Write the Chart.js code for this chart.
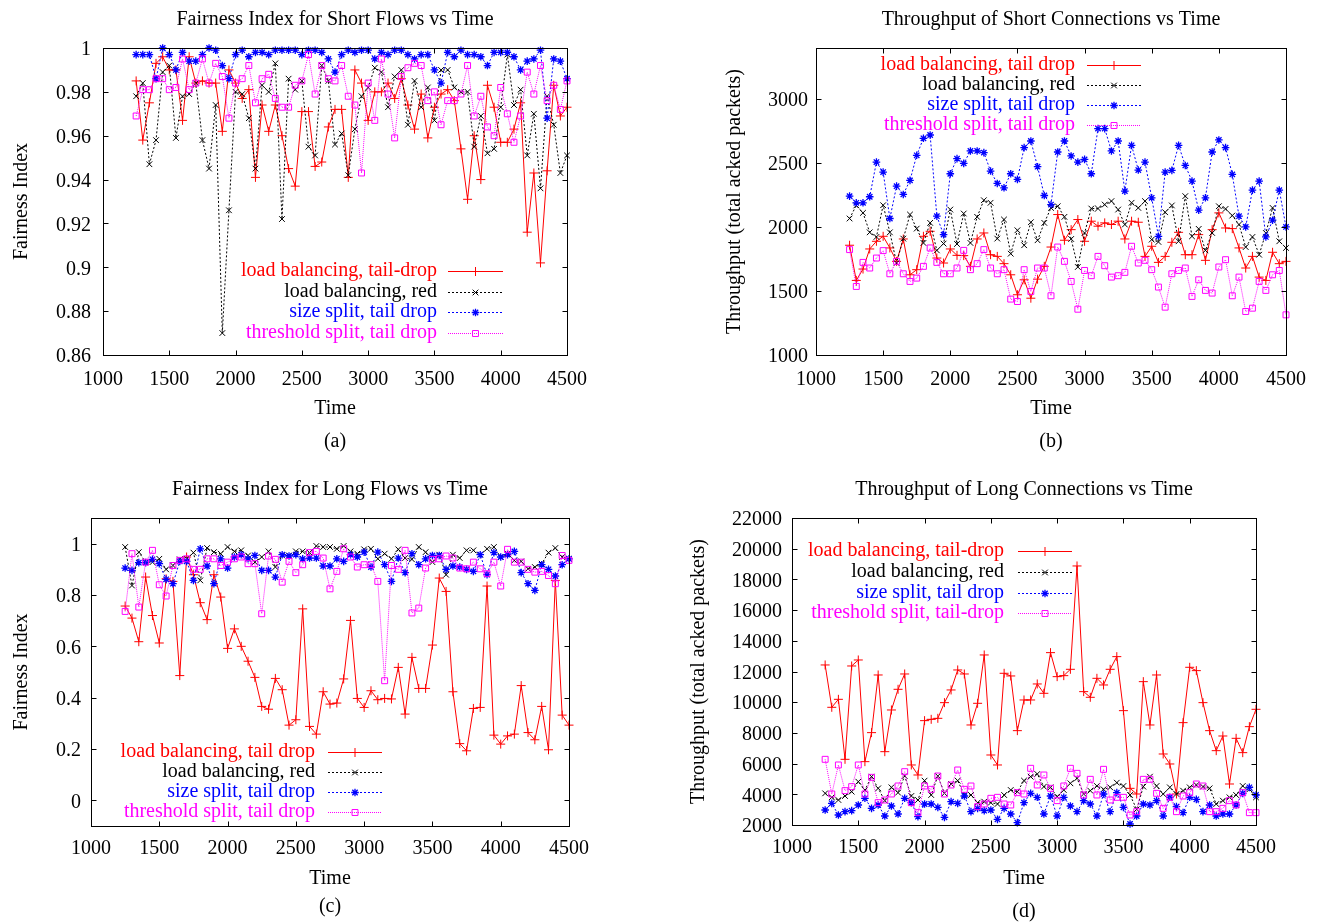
<!DOCTYPE html>
<html>
<head>
<meta charset="utf-8">
<script src="https://cdn.jsdelivr.net/npm/chart.js@4.4.1/dist/chart.umd.min.js"></script>
<style>
  body { margin: 0; background: #fff; width: 1319px; height: 923px; overflow: hidden; position: relative; }
  canvas { position: absolute; }
</style>
</head>
<body>
<canvas id="chartA" width="600" height="460" style="left:0px;top:0px"></canvas>
<canvas id="chartB" width="619" height="460" style="left:700px;top:0px"></canvas>
<canvas id="chartC" width="600" height="463" style="left:0px;top:460px"></canvas>
<canvas id="chartD" width="659" height="465" style="left:660px;top:460px"></canvas>
<script>
// time axis (same samples for every panel)
const times = [1250,1300,1350,1400,1450,1500,1550,1600,1650,1700,1750,1800,1850,1900,1950,2000,2050,2100,2150,2200,
  2250,2300,2350,2400,2450,2500,2550,2600,2650,2700,2750,2800,2850,2900,2950,3000,3050,3100,3150,3200,
  3250,3300,3350,3400,3450,3500,3550,3600,3650,3700,3750,3800,3850,3900,3950,4000,4050,4100,4150,4200,
  4250,4300,4350,4400,4450,4500];
const timeTicks = [1000,1500,2000,2500,3000,3500,4000,4500];

// (a) fairness index, short flows
const shortFairLbTail = [0.985,0.958,0.975,0.993,0.996,0.990,0.990,0.967,0.996,0.984,0.985,0.984,0.984,0.962,0.990,0.984,0.977,0.981,0.941,0.974,
  0.962,0.974,0.960,0.945,0.937,0.971,0.971,0.946,0.948,0.964,0.972,0.972,0.941,0.990,0.984,0.967,0.980,0.980,0.984,0.977,
  0.986,0.974,0.963,0.979,0.959,0.973,0.979,0.981,0.976,0.954,0.931,0.960,0.940,0.983,0.973,0.957,0.957,0.963,0.975,0.916,
  0.943,0.902,0.944,0.983,0.969,0.973];
const shortFairLbRed = [0.978,0.984,0.947,0.958,0.989,0.992,0.959,0.978,0.979,0.984,0.958,0.945,0.974,0.870,0.926,0.980,0.979,0.968,0.945,0.983,
  0.980,0.993,0.922,0.986,0.981,0.985,0.955,0.951,0.992,0.985,0.956,0.961,0.942,0.963,0.978,0.982,0.991,0.989,0.973,0.987,
  0.990,0.965,0.985,0.973,0.982,0.967,0.990,0.990,0.982,0.980,0.980,0.955,0.969,0.952,0.954,0.973,0.997,0.974,0.981,0.951,
  0.970,0.936,0.978,0.965,0.943,0.951];
const shortFairSize = [0.997,0.997,0.997,0.986,1.000,0.997,0.990,0.998,0.994,0.994,0.997,1.000,0.999,0.992,0.986,0.997,0.999,0.996,0.998,0.998,
  0.997,0.999,0.999,0.999,0.999,0.997,0.999,0.999,0.998,0.995,0.989,0.997,0.999,0.998,0.999,0.999,0.995,0.998,0.997,0.999,
  0.999,0.997,0.995,0.997,0.997,0.990,0.984,0.998,0.996,0.999,0.997,0.997,0.996,0.992,0.998,0.998,0.998,0.996,0.990,0.994,
  0.995,0.999,0.968,0.995,0.994,0.986];
const shortFairThresh = [0.969,0.981,0.981,0.986,0.986,0.981,0.982,0.995,0.981,0.984,0.995,0.984,0.993,0.987,0.968,0.984,0.986,0.992,0.975,0.986,
  0.988,0.977,0.973,0.973,0.983,0.985,0.997,0.979,0.992,0.986,0.985,0.992,0.978,0.974,0.943,0.984,0.967,0.995,0.979,0.959,
  0.987,0.991,0.993,0.992,0.976,0.980,0.965,0.976,0.976,0.979,0.992,0.969,0.978,0.964,0.960,0.982,0.970,0.957,0.969,0.989,
  0.979,0.992,0.976,0.983,0.972,0.985];
const fairShortTicks = [0.86,0.88,0.9,0.92,0.94,0.96,0.98,1];

// (b) throughput, short connections
const shortTputLbTail = [1858,1583,1672,1829,1889,1928,1837,1732,1907,1627,1667,1928,1967,1758,1719,1829,1779,1777,1693,1907,
  1954,1784,1771,1714,1627,1471,1588,1444,1593,1693,1844,2098,1897,1980,2059,1889,2046,2007,2033,2020,
  2046,1907,2046,2038,1771,1850,1724,1771,1881,1959,1784,1784,1941,1740,1980,2111,1993,1988,1837,1680,
  1771,1609,1583,1803,1714,1732];
const shortTputLbRed = [2067,2169,2111,1959,1923,2171,1959,1719,1910,2098,1988,1876,2033,1818,1871,2137,1868,2106,1876,2080,
  2210,2190,1910,2059,1792,1975,1858,2038,1897,2033,2150,2163,2080,1907,1688,1954,2145,2145,2176,2203,
  2137,2020,2190,2150,2203,1902,1884,2116,2169,1889,2242,1928,1986,1818,1954,2163,2142,2090,2020,1844,
  1923,1784,1954,2150,1889,1837];
const shortTputSize = [2242,2190,2190,2237,2508,2430,2067,2320,2255,2365,2561,2694,2720,2085,1941,2417,2535,2498,2595,2595,
  2582,2438,2341,2307,2417,2373,2621,2673,2472,2247,2176,2587,2673,2556,2508,2529,2417,2770,2770,2595,
  2673,2281,2639,2446,2508,2229,1928,2430,2443,2639,2482,2359,2132,2229,2587,2681,2621,2412,2085,2001,
  2289,2359,1923,2054,2289,2001];
const shortTputThresh = [1824,1536,1724,1680,1758,1816,1635,1732,1635,1575,1601,1693,1837,1724,1635,1635,1680,1818,1667,1714,
  1824,1680,1635,1667,1437,1418,1667,1497,1680,1680,1463,1844,1732,1575,1358,1661,1620,1771,1698,1609,
  1620,1646,1850,1719,1740,1667,1531,1374,1635,1661,1680,1458,1588,1505,1484,1688,1745,1463,1609,1340,
  1366,1575,1505,1627,1661,1314];
const tputShortTicks = [1000,1500,2000,2500,3000];

// (c) fairness index, long flows
const longFairLbTail = [0.757,0.710,0.618,0.870,0.720,0.613,0.863,0.853,0.486,0.948,0.879,0.770,0.704,0.879,0.792,0.592,0.668,0.600,0.542,0.479,
  0.366,0.355,0.475,0.431,0.293,0.314,0.746,0.288,0.258,0.423,0.375,0.379,0.473,0.701,0.397,0.362,0.427,0.392,0.397,0.395,
  0.518,0.336,0.557,0.436,0.436,0.605,0.866,0.814,0.423,0.221,0.193,0.358,0.362,0.835,0.254,0.219,0.251,0.258,0.447,0.264,
  0.236,0.366,0.197,0.857,0.332,0.293];
const longFairLbRed = [0.987,0.837,0.967,0.928,0.928,0.941,0.900,0.915,0.939,0.941,0.965,0.857,0.983,0.967,0.961,0.987,0.970,0.974,0.954,0.928,
  0.948,0.970,0.909,0.954,0.954,0.970,0.970,0.965,0.991,0.987,0.987,0.980,0.991,0.970,0.961,0.978,0.980,0.941,0.961,0.941,
  0.978,0.944,0.939,0.987,0.967,0.928,0.957,0.879,0.957,0.944,0.974,0.974,0.957,0.980,0.987,0.948,0.961,0.935,0.931,0.902,
  0.909,0.922,0.965,0.983,0.948,0.941];
const longFairSize = [0.905,0.896,0.926,0.926,0.939,0.922,0.861,0.844,0.931,0.931,0.857,0.980,0.913,0.844,0.941,0.905,0.948,0.957,0.941,0.954,
  0.896,0.896,0.870,0.957,0.952,0.957,0.941,0.944,0.944,0.913,0.913,0.941,0.931,0.957,0.948,0.967,0.909,0.967,0.918,0.853,
  0.944,0.887,0.961,0.918,0.941,0.954,0.954,0.900,0.913,0.909,0.900,0.892,0.957,0.879,0.965,0.948,0.957,0.970,0.887,0.844,
  0.818,0.918,0.900,0.874,0.918,0.941];
const longFairThresh = [0.736,0.961,0.753,0.928,0.974,0.840,0.796,0.915,0.935,0.941,0.900,0.900,0.941,0.941,0.915,0.928,0.941,0.948,0.922,0.922,
  0.727,0.952,0.939,0.850,0.931,0.887,0.918,0.965,0.970,0.944,0.824,0.892,0.980,0.948,0.909,0.918,0.918,0.853,0.466,0.915,
  0.900,0.974,0.730,0.749,0.905,0.939,0.941,0.952,0.944,0.905,0.902,0.928,0.902,0.883,0.928,0.835,0.978,0.928,0.928,0.900,
  0.889,0.892,0.876,0.844,0.954,0.935];
const fairLongTicks = [0,0.2,0.4,0.6,0.8,1];

// (d) throughput, long connections
const longTputLbTail = [12426,9667,10188,6279,12360,12751,6127,8017,11774,6778,9493,10840,11839,5910,5258,8798,8885,8950,9971,10797,
  12100,11839,8516,9928,13077,6561,5910,11883,11709,8147,10145,10145,11188,10579,13229,11665,11730,12143,18876,10688,
  10319,11556,11122,12143,12969,9450,4389,4020,11339,8516,11774,6626,5975,4020,8668,12274,12057,9971,8147,6843,
  7799,4672,7647,6713,8407,9537];
const longTputLbRed = [4063,3803,3629,3890,4172,4824,4281,5149,4389,3586,4454,4107,5193,3890,3629,4889,3955,5193,4063,4672,
  4889,3955,3955,3455,3520,3455,3368,3955,4281,4172,4889,5149,5323,4498,4454,3846,4281,4715,5041,4020,
  4237,4541,4324,4454,4758,4541,3955,3021,4498,5149,4541,4020,4454,4020,4237,4454,4606,4498,4389,3368,
  3586,3803,3955,4541,4324,3803];
const longTputSize = [2977,3412,2652,2869,2934,3303,3738,3086,3303,2586,3238,2717,3738,3455,2543,3368,3368,3151,2500,3520,
  3412,3890,2869,3086,2934,2977,2369,3086,2717,2152,3455,4063,3803,2717,3890,2586,3803,3238,2869,3586,
  3368,2586,4020,2869,4107,3151,2065,2586,3368,3303,3586,2586,3803,3195,2804,3803,3672,2869,3303,2586,
  2717,2717,3303,4063,4454,3955];
const longTputThresh = [6279,4020,5910,4237,4498,5910,4020,5106,3455,3629,4020,4541,5475,3455,2804,4541,4324,5193,4020,4606,
  5584,4324,4541,3195,3368,3738,3803,3368,3303,4107,4020,5693,4606,5258,4389,3586,4541,5693,5366,3955,
  4976,3955,5627,3629,3803,3803,2652,2869,4976,4976,4063,3086,3803,2869,3890,4107,4672,4541,2869,2869,
  3086,3586,3303,4107,2804,2804];
const tputLongTicks = [2000,4000,6000,8000,10000,12000,14000,16000,18000,20000,22000];

const FONT = "'Liberation Serif', 'Times New Roman', serif";
Chart.defaults.font.family = FONT;
Chart.defaults.font.size = 20;
Chart.defaults.color = '#000';

// red +, black x, blue *, magenta square -- same order as gnuplot
const styles = [
  { color: '#ff0000', dash: [],     point: 'cross',    radius: 4.5 },
  { color: '#000000', dash: [2, 2], point: 'crossRot', radius: 4 },
  { color: '#0000ff', dash: [2, 2], point: 'star',     radius: 3.8 },
  { color: '#ff00ff', dash: [1, 1], point: 'rect',     radius: 4.2 }
];

function makeSets(names, lists) {
  return lists.map((vals, k) => ({
    label: names[k],
    data: times.map((t, i) => ({ x: t, y: vals[i] })),
    borderColor: styles[k].color,
    borderWidth: 1,
    borderDash: styles[k].dash,
    pointStyle: styles[k].point,
    pointRadius: styles[k].radius,
    pointBorderColor: styles[k].color,
    pointBackgroundColor: 'rgba(0,0,0,0)',
    pointBorderWidth: k === 2 ? 1.3 : 1,
    tension: 0,
    clip: false,
    order: 3 - k
  }));
}

// frame with inward ticks on all four sides
const frameTicks = {
  id: 'frameTicks',
  afterDatasetsDraw(chart) {
    const { ctx, chartArea: a, scales } = chart;
    const L = Math.round(a.left) + 0.5, R = Math.round(a.right) + 0.5;
    const T = Math.round(a.top) + 0.5, B = Math.round(a.bottom) + 0.5;
    const len = 5;
    ctx.save();
    ctx.strokeStyle = '#000';
    ctx.lineWidth = 1;
    ctx.setLineDash([]);
    ctx.beginPath();
    scales.x.ticks.forEach(t => {
      const px = Math.round(scales.x.getPixelForValue(t.value)) + 0.5;
      ctx.moveTo(px, B); ctx.lineTo(px, B - len);
      ctx.moveTo(px, T); ctx.lineTo(px, T + len);
    });
    scales.y.ticks.forEach(t => {
      const py = Math.round(scales.y.getPixelForValue(t.value)) + 0.5;
      ctx.moveTo(L, py); ctx.lineTo(L + len, py);
      ctx.moveTo(R, py); ctx.lineTo(R - len, py);
    });
    ctx.stroke();
    ctx.strokeRect(L, T, R - L, B - T);
    ctx.restore();
  }
};

// gnuplot style key: right aligned text, then line sample with marker
const sideLegend = {
  id: 'sideLegend',
  afterDatasetsDraw(chart, args, opts) {
    const { ctx } = chart;
    ctx.save();
    ctx.font = '20px ' + FONT;
    ctx.textAlign = 'right';
    ctx.textBaseline = 'middle';
    chart.data.datasets.forEach((ds, k) => {
      const y = opts.rows[k];
      ctx.fillStyle = ds.borderColor;
      ctx.fillText(ds.label, opts.textRight, y);
      ctx.strokeStyle = ds.borderColor;
      ctx.lineWidth = 1;
      ctx.setLineDash(ds.borderDash);
      ctx.beginPath();
      ctx.moveTo(opts.lineFrom, y + 0.5);
      ctx.lineTo(opts.lineTo, y + 0.5);
      ctx.stroke();
      ctx.setLineDash([]);
      ctx.fillStyle = 'rgba(0,0,0,0)';
      ctx.lineWidth = ds.pointBorderWidth;
      Chart.helpers.drawPoint(ctx, { pointStyle: ds.pointStyle, radius: ds.pointRadius, borderWidth: ds.pointBorderWidth, rotation: 0 },
        (opts.lineFrom + opts.lineTo) / 2, y + 0.5);
    });
    ctx.restore();
  }
};

function makeChart(id, cfg) {
  new Chart(document.getElementById(id), {
    type: 'line',
    data: { datasets: makeSets(cfg.names, cfg.series) },
    options: {
      responsive: false,
      animation: false,
      events: [],
      layout: { padding: { left: 0, right: cfg.padRight, top: 0, bottom: 0 } },
      scales: {
        x: {
          type: 'linear',
          min: 1000,
          max: 4500,
          afterBuildTicks: s => { s.ticks = timeTicks.map(v => ({ value: v })); },
          afterFit: s => { s.height = cfg.xHeight; },
          grid: { display: false, drawTicks: false },
          border: { display: false },
          ticks: { padding: cfg.xTickPad, maxRotation: 0, autoSkip: false, color: '#000', callback: v => String(v) },
          title: { display: true, text: 'Time', color: '#000', padding: { top: 0, bottom: cfg.xTitlePad } }
        },
        y: {
          type: 'linear',
          min: cfg.yMin,
          max: cfg.yMax,
          afterBuildTicks: s => { s.ticks = cfg.yTicks.map(v => ({ value: v })); },
          afterFit: s => { s.width = cfg.yWidth; },
          grid: { display: false, drawTicks: false },
          border: { display: false },
          ticks: { padding: cfg.yTickPad, labelOffset: 2, color: '#000', callback: v => String(v) },
          title: { display: true, text: cfg.yTitle, color: '#000', padding: { top: cfg.yTitlePad, bottom: 0 } }
        }
      },
      plugins: {
        legend: { display: false },
        tooltip: { enabled: false },
        title: { display: true, text: cfg.title, color: '#000', font: { weight: 'normal' },
          fullSize: false, padding: { top: cfg.titleTop, bottom: 16 } },
        subtitle: { display: true, position: 'bottom', text: cfg.tag, color: '#000', font: { size: 20 },
          fullSize: false, padding: { top: 0, bottom: cfg.tagPad } },
        sideLegend: cfg.legend
      }
    },
    plugins: [frameTicks, sideLegend]
  });
}

makeChart('chartA', {
  title: 'Fairness Index for Short Flows vs Time', tag: '(a)', yTitle: 'Fairness Index',
  names: ['load balancing, tail-drop', 'load balancing, red', 'size split, tail drop', 'threshold split, tail drop'],
  series: [shortFairLbTail, shortFairLbRed, shortFairSize, shortFairThresh],
  yMin: 0.86, yMax: 1, yTicks: fairShortTicks,
  padRight: 22, yWidth: 103, xHeight: 75, titleTop: 8, tagPad: 6, xTitlePad: 9, xTickPad: 13, yTickPad: 12, yTitlePad: 10,
  legend: { textRight: 437, lineFrom: 448, lineTo: 503, rows: [271, 292, 312, 333] }
});

makeChart('chartB', {
  title: 'Throughput of Short Connections vs Time', tag: '(b)', yTitle: 'Throughput (total acked packets)',
  names: ['load balancing, tail drop', 'load balancing, red', 'size split, tail drop', 'threshold split, tail drop'],
  series: [shortTputLbTail, shortTputLbRed, shortTputSize, shortTputThresh],
  yMin: 1000, yMax: 3400, yTicks: tputShortTicks,
  padRight: 28, yWidth: 116, xHeight: 75, titleTop: 8, tagPad: 6, xTitlePad: 9, xTickPad: 13, yTickPad: 8, yTitlePad: 23,
  legend: { textRight: 375, lineFrom: 387, lineTo: 441, rows: [65, 85, 105, 125] }
});

makeChart('chartC', {
  title: 'Fairness Index for Long Flows vs Time', tag: '(c)', yTitle: 'Fairness Index',
  names: ['load balancing, tail drop', 'load balancing, red', 'size split, tail drop', 'threshold split, tail drop'],
  series: [longFairLbTail, longFairLbRed, longFairSize, longFairThresh],
  yMin: -0.1, yMax: 1.1, yTicks: fairLongTicks,
  padRight: 22, yWidth: 91, xHeight: 69, titleTop: 18, tagPad: 4, xTitlePad: 4, xTickPad: 11, yTickPad: 10, yTitlePad: 10,
  legend: { textRight: 315, lineFrom: 328, lineTo: 382, rows: [292, 312, 332, 352] }
});

makeChart('chartD', {
  title: 'Throughput of Long Connections vs Time', tag: '(d)', yTitle: 'Throughput (total acked packets)',
  names: ['load balancing, tail-drop', 'load balancing, red', 'size split, tail drop', 'threshold split, tail-drop'],
  series: [longTputLbTail, longTputLbRed, longTputSize, longTputThresh],
  yMin: 2000, yMax: 22000, yTicks: tputLongTicks,
  padRight: 63, yWidth: 132, xHeight: 75, titleTop: 18, tagPad: 1, xTitlePad: 9, xTickPad: 11, yTickPad: 10, yTitlePad: 27,
  legend: { textRight: 344, lineFrom: 358, lineTo: 412, rows: [91, 112, 133, 153] }
});
</script>
</body>
</html>
